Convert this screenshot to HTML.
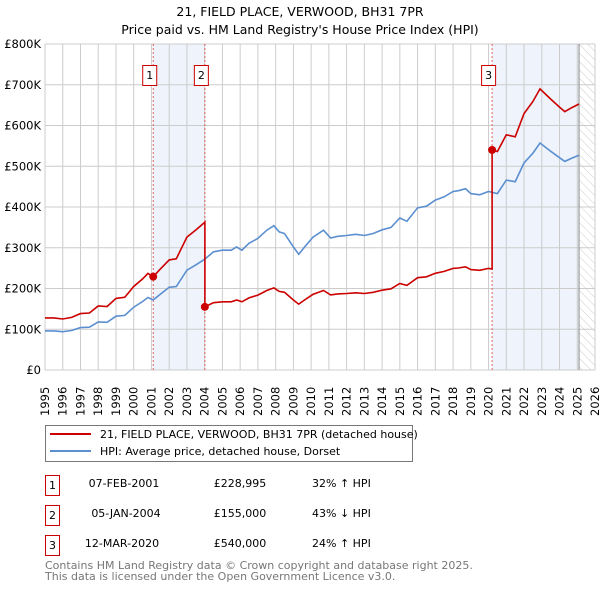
<!DOCTYPE html>
<html><head><meta charset="utf-8"><style>
body{margin:0;background:#fff;font-family:"Liberation Sans","DejaVu Sans",sans-serif;}
svg text{font-family:"DejaVu Sans","Liberation Sans",sans-serif;}
</style></head><body>
<svg id="c" width="600" height="590" viewBox="0 0 600 590" xmlns="http://www.w3.org/2000/svg">
<defs><pattern id="hatch" width="6" height="6" patternUnits="userSpaceOnUse" patternTransform="rotate(-45)"><line x1="0" y1="0" x2="0" y2="6" stroke="#ccc" stroke-width="1"/></pattern></defs>
<text x="300" y="16" text-anchor="middle" font-size="12.5" fill="#000">21, FIELD PLACE, VERWOOD, BH31 7PR</text>
<text x="300" y="34" text-anchor="middle" font-size="12.5" fill="#000">Price paid vs. HM Land Registry's House Price Index (HPI)</text>
<g id="plot"></g>
<g>
<rect x="45.5" y="425.5" width="367" height="36" fill="#fff" stroke="#777"/>
<line x1="50" y1="434" x2="91" y2="434" stroke="#cc0000" stroke-width="2"/>
<text x="100" y="438" font-size="11">21, FIELD PLACE, VERWOOD, BH31 7PR (detached house)</text>
<line x1="50" y1="451" x2="91" y2="451" stroke="#5b8fd0" stroke-width="2"/>
<text x="100" y="455" font-size="11">HPI: Average price, detached house, Dorset</text>
</g>
<g font-size="11">
<rect x="45.5" y="475.5" width="14" height="20" fill="#fff" stroke="#cc0000"/><text x="52.5" y="489" text-anchor="middle">1</text>
<text x="124" y="487" text-anchor="middle">07-FEB-2001</text><text x="240" y="487" text-anchor="middle">£228,995</text><text x="312" y="487">32% ↑ HPI</text>
<rect x="45.5" y="505.5" width="14" height="20" fill="#fff" stroke="#cc0000"/><text x="52.5" y="519" text-anchor="middle">2</text>
<text x="126" y="517" text-anchor="middle">05-JAN-2004</text><text x="240" y="517" text-anchor="middle">£155,000</text><text x="312" y="517">43% ↓ HPI</text>
<rect x="45.5" y="535.5" width="14" height="20" fill="#fff" stroke="#cc0000"/><text x="52.5" y="549" text-anchor="middle">3</text>
<text x="122" y="547" text-anchor="middle">12-MAR-2020</text><text x="240" y="547" text-anchor="middle">£540,000</text><text x="312" y="547">24% ↑ HPI</text>
</g>
<text x="45" y="569" font-size="11" fill="#777">Contains HM Land Registry data © Crown copyright and database right 2025.</text>
<text x="45" y="580" font-size="11" fill="#777">This data is licensed under the Open Government Licence v3.0.</text>
</svg>
<script>
const hpiYears=[1995,1995.5,1996,1996.5,1997,1997.5,1998,1998.5,1999,1999.5,2000,2000.5,2000.8,2001.1,2001.5,2002,2002.4,2003,2003.5,2004,2004.5,2005,2005.5,2005.8,2006.1,2006.5,2007,2007.5,2007.9,2008.2,2008.5,2009,2009.3,2009.6,2010.1,2010.7,2011.1,2011.5,2012,2012.5,2013,2013.5,2014,2014.5,2015,2015.4,2016,2016.5,2017,2017.5,2018,2018.3,2018.7,2019,2019.5,2020,2020.5,2021,2021.5,2022,2022.5,2022.9,2023.5,2024,2024.3,2024.7,2025.1];
const hpiValues=[96,96,94,97,104,105,118,117,132,134,154,168,178,172,186,203,205,245,258,272,290,294,294,302,294,311,323,343,354,339,335,302,284,300,326,343,324,328,330,333,330,335,344,350,373,365,398,402,417,425,438,440,445,433,430,438,433,466,462,508,532,557,537,521,512,520,527];
const saleYears=[2001.1,2004.01,2020.2];
const salePrices=[228995,155000,540000];
const saleLabels=["1","2","3"];
const yTicks=[0,100000,200000,300000,400000,500000,600000,700000,800000];
const yTickLabels=["£0","£100K","£200K","£300K","£400K","£500K","£600K","£700K","£800K"];
const xTicks=[1995,1996,1997,1998,1999,2000,2001,2002,2003,2004,2005,2006,2007,2008,2009,2010,2011,2012,2013,2014,2015,2016,2017,2018,2019,2020,2021,2022,2023,2024,2025,2026];
const dataEnd=2025.1;

const X0=45,X1=595,Y0=370,Y1=44;
const xs=y=>X0+(y-1995)/(2026-1995)*(X1-X0);
const ys=v=>Y0-v/800000*(Y0-Y1);
const NS="http://www.w3.org/2000/svg";
const g=document.getElementById('plot');
function mk(t,a){const e=document.createElementNS(NS,t);for(const k in a)e.setAttribute(k,a[k]);g.appendChild(e);return e;}
function hpiAt(t){for(let i=1;i<hpiYears.length;i++){if(t<=hpiYears[i]){const f=(t-hpiYears[i-1])/(hpiYears[i]-hpiYears[i-1]);return 1000*(hpiValues[i-1]+f*(hpiValues[i]-hpiValues[i-1]));}}return 1000*hpiValues[hpiValues.length-1];}
// shaded ownership regions
for(let i=0;i<saleYears.length;i+=2){
  const a=saleYears[i],b=i+1<saleYears.length?saleYears[i+1]:dataEnd;
  const r=mk('rect',{x:xs(a),y:Y1,width:xs(b)-xs(a),height:Y0-Y1,fill:'#eef3fc'});
  
  
}
const hr=mk('rect',{x:xs(dataEnd),y:Y1,width:X1-xs(dataEnd),height:Y0-Y1,fill:'url(#hatch)'});


// grid
xTicks.forEach(t=>{
  const l=mk('line',{x1:xs(t),x2:xs(t),y1:Y1,y2:Y0,stroke:'#ccc','stroke-width':1});
  
  
  const tx=mk('text',{transform:`translate(${xs(t)+4},${Y0+46}) rotate(-90)`,'font-size':11.5,fill:'#000'});
  tx.textContent=t;
  
  
});
yTicks.forEach((v,i)=>{
  const l=mk('line',{x1:X0,x2:X1,y1:ys(v),y2:ys(v),stroke:'#ccc','stroke-width':1});
  
  
  const tx=mk('text',{x:X0-4,y:ys(v)+4,'text-anchor':'end','font-size':11.5,fill:'#000'});
  tx.textContent=yTickLabels[i];
  
  
});
const el=mk('line',{x1:xs(dataEnd),x2:xs(dataEnd),y1:Y1,y2:Y0,stroke:'#888','stroke-width':1});


// sale lines
saleYears.forEach((s,i)=>{
  const l=mk('line',{x1:xs(s),x2:xs(s),y1:Y1,y2:Y0,stroke:'#e06060','stroke-width':1,'stroke-dasharray':'2,2'});
  
  
  const b=mk('rect',{x:xs(s)-10.5,y:65.5,width:14,height:20,fill:'#fff',stroke:'#cc0000'});
  
  
  const t=mk('text',{x:xs(s)-3.5,y:79,'text-anchor':'middle','font-size':11});
  t.textContent=saleLabels[i];
  
  
});
// HPI line
let d='';hpiYears.forEach((y,i)=>{d+=(i?'L':'M')+xs(y).toFixed(1)+','+ys(hpiValues[i]*1000).toFixed(1);});
const hp=mk('path',{d:d,fill:'none',stroke:'#5b8fd0','stroke-width':1.6});


// property line: HPI indexed from each sale
function ratioIdx(t){let k=0;for(let i=0;i<saleYears.length;i++)if(t>=saleYears[i])k=i;return k;}
const ratios=saleYears.map((s,i)=>salePrices[i]/hpiAt(s));
const pts=[];
const times=hpiYears.concat(saleYears).sort((a,b)=>a-b);
times.forEach(t=>{
  const si=saleYears.indexOf(t);
  if(si>0){pts.push([t,hpiAt(t)*ratios[si-1]]);}
  pts.push([t,hpiAt(t)*ratios[ratioIdx(t)]]);
});
let d2='';pts.forEach((p,i)=>{d2+=(i?'L':'M')+xs(p[0]).toFixed(1)+','+ys(p[1]).toFixed(1);});
const pp=mk('path',{d:d2,fill:'none',stroke:'#cc0000','stroke-width':1.6});


saleYears.forEach((s,i)=>{
  const c=mk('circle',{cx:xs(s),cy:ys(salePrices[i]),r:4,fill:'#cc0000'});
  
  
});
</script>
</body></html>
